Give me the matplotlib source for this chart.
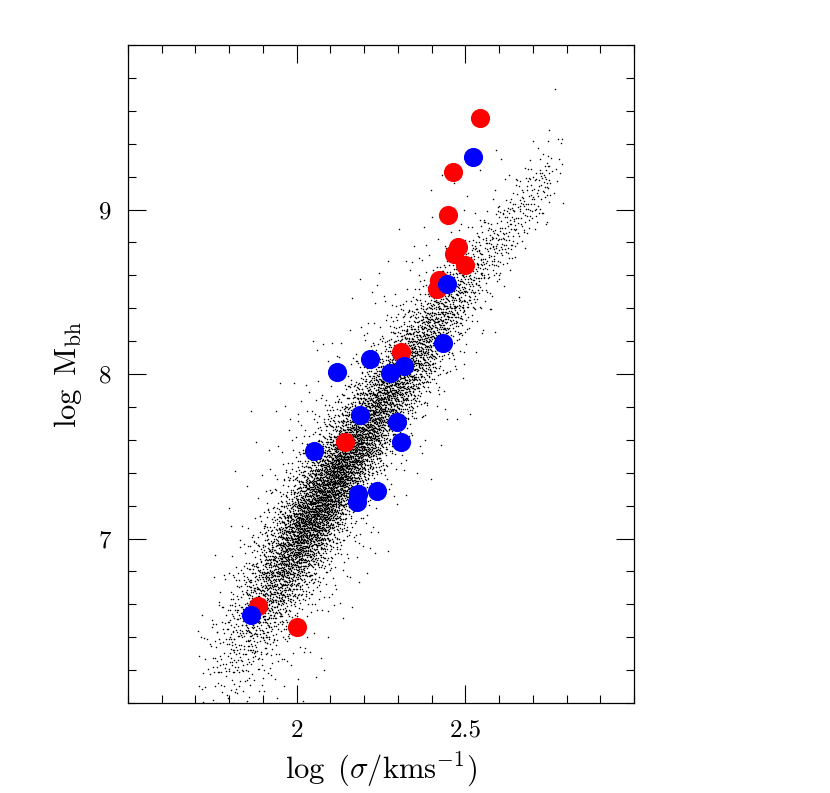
import numpy as np
import matplotlib
matplotlib.use("Agg")
import matplotlib.pyplot as plt
from matplotlib.ticker import MultipleLocator, FixedLocator, FixedFormatter

plt.rcParams['font.family'] = 'serif'
plt.rcParams['font.serif'] = ['cmr10', 'DejaVu Serif']
plt.rcParams['mathtext.fontset'] = 'cm'
plt.rcParams['axes.formatter.use_mathtext'] = True

# ---- highlighted galaxies ----
red_x = [2.544, 2.462, 2.450, 2.477, 2.467, 2.500, 2.421, 2.417, 2.308, 2.143, 1.884, 2.002]
red_y = [9.558, 9.230, 8.968, 8.771, 8.732, 8.661, 8.570, 8.515, 8.133, 7.586, 6.590, 6.465]

blue_x = [2.524, 2.445, 2.435, 2.216, 2.121, 2.276, 2.318, 2.189, 2.297, 2.308,
          2.052, 2.238, 2.183, 2.178, 1.866]
blue_y = [9.317, 8.550, 8.186, 8.089, 8.012, 8.008, 8.050, 7.752, 7.711, 7.586,
          7.533, 7.291, 7.273, 7.224, 6.535]

# ---- background cloud: per-bin description ----
cloud_bin_x = [1.725, 1.775, 1.825, 1.875, 1.925, 1.975, 2.025, 2.075, 2.125, 2.175, 2.225,
               2.275, 2.325, 2.375, 2.425, 2.475, 2.525, 2.575, 2.625, 2.675, 2.725, 2.765]
cloud_count = [25, 70, 150, 280, 460, 680, 880, 960, 920, 800, 680,
               560, 470, 380, 300, 220, 130, 95, 80, 65, 55, 18]
cloud_ridge_y = [6.15, 6.30, 6.44, 6.59, 6.75, 6.92, 7.08, 7.23, 7.39, 7.55, 7.71,
                 7.87, 8.02, 8.17, 8.32, 8.46, 8.60, 8.74, 8.88, 9.02, 9.14, 9.24]
cloud_sigma = [0.22, 0.22, 0.22, 0.21, 0.20, 0.19, 0.18, 0.18, 0.17, 0.17, 0.17,
               0.16, 0.16, 0.16, 0.15, 0.15, 0.14, 0.13, 0.12, 0.12, 0.11, 0.10]
cloud_bin_w = 0.05
cloud_wide_frac = 0.15     # share of loosely scattered points
cloud_wide_factor = 2.2

x_ticks = [2, 2.5]
x_ticklabels = ['2', '2.5']
y_ticks = [7, 8, 9]
y_ticklabels = ['7', '8', '9']


def norm_ppf(p):
    zz = np.linspace(-4, 4, 4001)
    cdf = np.cumsum(np.exp(-zz ** 2 / 2))
    cdf /= cdf[-1]
    return np.interp(p, cdf, zz)


def halton(idx, base):
    idx = np.array(idx, dtype=np.int64)
    r = np.zeros(idx.shape)
    f = 1.0
    while np.any(idx > 0):
        f /= base
        r += f * (idx % base)
        idx //= base
    return r


bx = np.array(cloud_bin_x)
by = np.array(cloud_ridge_y)
local_slope = np.gradient(by, bx)
cx, cy = [], []
for i, (xc, n, yc, sg) in enumerate(zip(cloud_bin_x, cloud_count, cloud_ridge_y, cloud_sigma)):
    j = np.arange(n) + 1 + 997 * (i + 1)
    fx = halton(j, 2)
    fy = np.clip(halton(j, 3), 0.004, 0.996)
    fw = halton(j, 5)
    xs = xc - cloud_bin_w / 2 + fx * cloud_bin_w
    s = np.where(fw < cloud_wide_frac, sg * cloud_wide_factor, sg)
    ys = yc + local_slope[i] * (xs - xc) + s * norm_ppf(fy)
    cx.append(xs)
    cy.append(ys)
cx = np.concatenate(cx)
cy = np.concatenate(cy)

fig = plt.figure(figsize=(8.30, 7.93), dpi=100)
ax = fig.add_axes([128 / 830, 1 - 703 / 793, 506 / 830, 658 / 793])

ax.scatter(cx, cy, s=1.2, c='black', linewidths=0, zorder=1)
ax.scatter(red_x, red_y, s=190, c='#ff0000', linewidths=0, zorder=3)
ax.scatter(blue_x, blue_y, s=190, c='#0000ff', linewidths=0, zorder=4)

ax.set_xlim(1.5, 3.0)
ax.set_ylim(6.0, 10.0)

ax.xaxis.set_major_locator(FixedLocator(x_ticks))
ax.xaxis.set_major_formatter(FixedFormatter(x_ticklabels))
ax.yaxis.set_major_locator(FixedLocator(y_ticks))
ax.yaxis.set_major_formatter(FixedFormatter(y_ticklabels))
ax.xaxis.set_minor_locator(MultipleLocator(0.1))
ax.yaxis.set_minor_locator(MultipleLocator(0.2))

ax.tick_params(which='both', direction='in', top=True, right=True, width=0.8, color='black')
ax.tick_params(which='major', length=13, labelsize=18)
ax.tick_params(axis='x', which='major', pad=12)
ax.tick_params(axis='y', which='major', pad=12)
ax.tick_params(which='minor', length=6)
for sp in ax.spines.values():
    sp.set_linewidth(0.9)

ax.set_xlabel(r'$\log\ (\sigma/\mathrm{kms^{-1}})$', fontsize=22, labelpad=6)
ax.set_ylabel(r'$\log\ \mathrm{M_{bh}}$', fontsize=22, labelpad=11)

fig.savefig('out.png', dpi=100)
